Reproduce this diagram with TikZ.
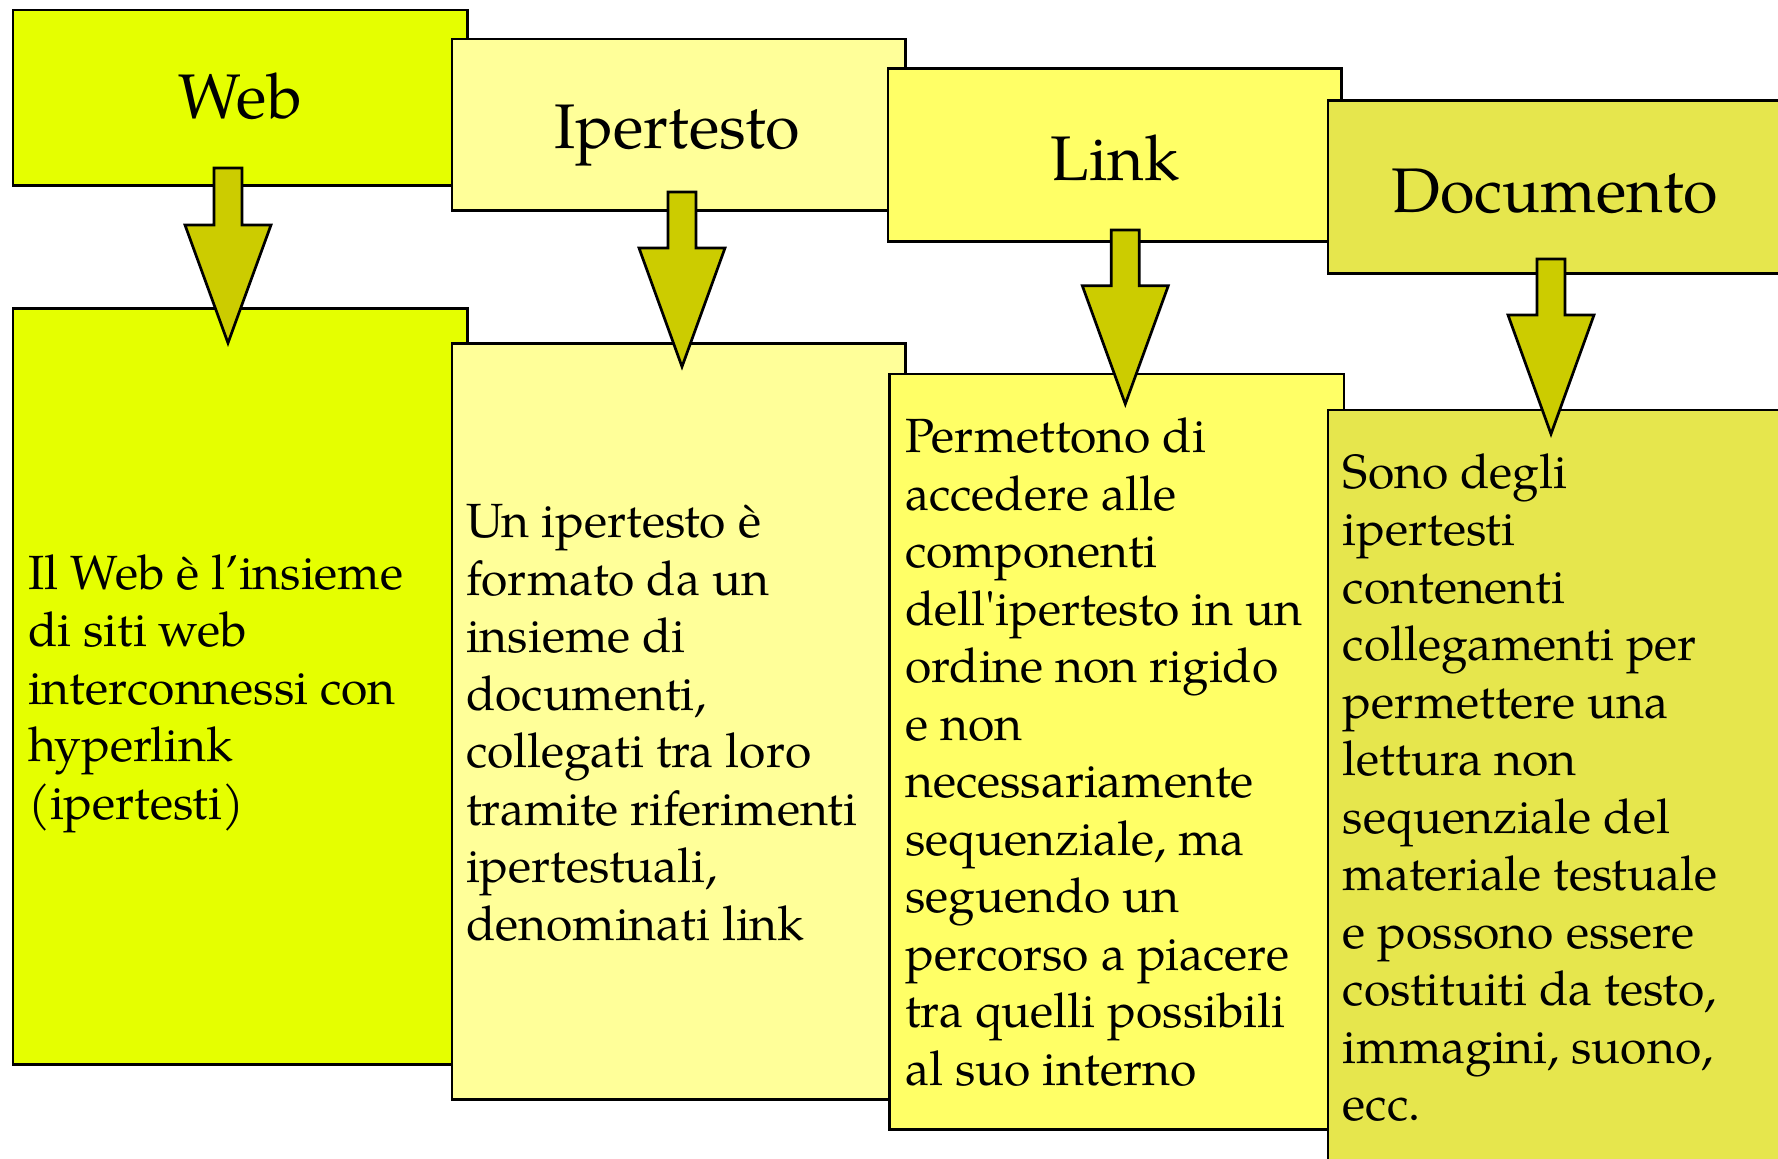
\documentclass[tikz,border=0pt]{standalone}
\usepackage{fontspec}
\setmainfont{TeX Gyre Pagella}
\definecolor{cWeb}{RGB}{229,255,0}
\definecolor{cIper}{RGB}{255,255,153}
\definecolor{cLink}{RGB}{255,255,102}
\definecolor{cDoc}{RGB}{230,230,77}
\definecolor{cArrow}{RGB}{204,204,0}
\tikzset{
  panel/.style={draw=black, line width=2.7pt, rectangle, inner sep=0pt, anchor=north west},
  htext/.style={anchor=base, inner sep=0pt, font=\fontsize{63}{75}\selectfont},
  btext/.style={anchor=base west, inner sep=0pt, align=left, font=\fontsize{48}{57.5}\selectfont},
  barrow/.style={draw=black, line width=2.7pt, fill=cArrow, line join=miter},
}
\newcommand{\blockarrow}[5]{% name, cx, top, wing, tip
  \coordinate (#1) at (#2,#4);
  \draw[barrow] (#2-14,#3) -- (#2+14,#3) -- (#2+14,#4) -- (#2+43,#4) -- (#2,#5) -- (#2-43,#4) -- (#2-14,#4) -- cycle;}
\begin{document}
\begin{tikzpicture}[x=1pt,y=-1pt]
\useasboundingbox (0,0) rectangle (1778,1159);
\clip (0,0) rectangle (1778,1159);
% Web
\node[panel, fill=cWeb, minimum width=454.5pt, minimum height=175.5pt] (hWeb) at (11.5,8.5) {};
\node[htext] (tWeb) at (240,118) {Web};
\node[panel, fill=cWeb, minimum width=454.5pt, minimum height=756pt] (bWeb) at (11.5,307) {};
% anchor = baseline of the last line
\node[btext] (xWeb) at (28,819) {Il Web è l’insieme\\di siti web\\interconnessi con\\hyperlink\\(ipertesti)};
\blockarrow{aWeb}{228}{168}{225}{343}
% Ipertesto
\node[panel, fill=cIper, minimum width=453.5pt, minimum height=171.5pt] (hIper) at (450.5,37.5) {};
\node[htext] (tIper) at (677,148.3) {Ipertesto};
\node[panel, fill=cIper, minimum width=453.5pt, minimum height=756pt] (bIper) at (450.5,342) {};
\node[btext] (xIper) at (466,940) {Un ipertesto è\\formato da un\\insieme di\\documenti,\\collegati tra loro\\tramite riferimenti\\ipertestuali,\\denominati link};
\blockarrow{aIper}{682}{192}{248}{366.7}
% Link
\node[panel, fill=cLink, minimum width=453.5pt, minimum height=172.7pt] (hLink) at (886.5,67.3) {};
\node[htext] (tLink) at (1115,180) {Link};
\node[panel, fill=cLink, minimum width=454.5pt, minimum height=755.3pt] (bLink) at (888,372.7) {};
\node[btext] (xLink) at (905,1085) {Permettono di\\accedere alle\\componenti\\dell\textquotesingle ipertesto in un\\ordine non rigido\\e non\\necessariamente\\sequenziale, ma\\seguendo un\\percorso a piacere\\tra quelli possibili\\al suo interno};
\blockarrow{aLink}{1125.3}{230}{285.7}{404}
% Documento
\node[panel, fill=cDoc, minimum width=480pt, minimum height=173pt] (hDoc) at (1326.7,99.3) {};
\node[htext] (tDoc) at (1554.5,212.3) {Documento};
\node[panel, fill=cDoc, minimum width=480pt, minimum height=780pt] (bDoc) at (1326.7,408.7) {};
\node[btext] (xDoc) at (1342.7,1120.5) {Sono degli\\ipertesti\\contenenti\\collegamenti per\\permettere una\\lettura non\\sequenziale del\\materiale testuale\\e possono essere\\costituiti da testo,\\immagini, suono,\\ecc.};
\blockarrow{aDoc}{1551}{259}{315}{434}
\end{tikzpicture}
\end{document}
